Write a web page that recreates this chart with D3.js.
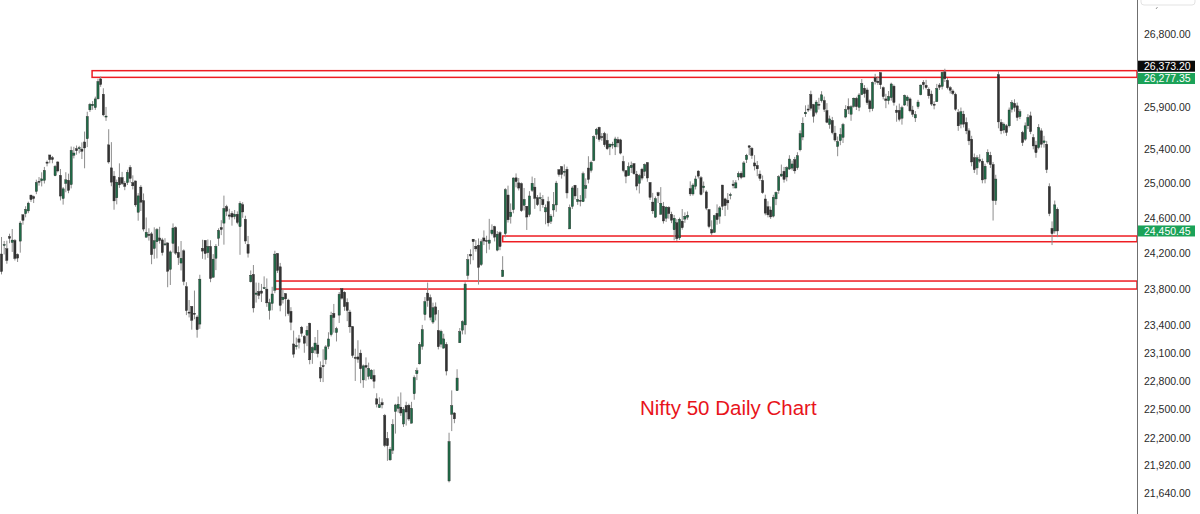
<!DOCTYPE html>
<html><head><meta charset="utf-8">
<script src="https://cdn.jsdelivr.net/npm/d3@7"></script>
<style>html,body{margin:0;padding:0;background:#fff;overflow:hidden}svg{display:block}</style>
</head><body><svg id="c" width="1200" height="514"></svg>
<script>
// Daily candles [open, high, low, close], Aug 2024 -> Mar 2026
const ohlc2024 = [
[24189,24382,23960,23992],[24289,24337,24184,24297],[24248,24340,24079,24117],[24387,24419,24311,24367],[24320,24473,24212,24347],
[24342,24359,24116,24139],[24184,24196,24099,24143],[24335,24563,24204,24541],[24636,24638,24522,24572],[24648,24734,24607,24698],
[24680,24787,24654,24770],[24863,24867,24784,24811],[24845,24858,24771,24823],[24906,25043,24874,25010],[25024,25073,24973,25017],
[25030,25129,24964,25052],[25035,25192,24998,25151],[25249,25268,25199,25236],[25333,25333,25235,25279],[25300,25321,25235,25279],
[25089,25216,25083,25198],[25250,25260,25128,25145],[25093,25168,24801,24852],[24823,24957,24753,24936],[24999,25130,24896,25041],
[25035,25113,24885,24918],[24985,25433,24941,25388],[25330,25430,25292,25356],[25406,25445,25336,25383],[25416,25441,25352,25418],
[25402,25482,25285,25377],[25487,25611,25176,25416],[25525,25849,25426,25791],[25872,25956,25847,25939],[25921,25978,25872,25940],
[25899,26032,25871,26004],[26005,26250,25998,26216],[26248,26277,26151,26179],[26061,26134,25794,25811],[25788,25907,25739,25797],
[25453,25639,25230,25250],[25181,25485,24966,25014],[25084,25143,24694,24796],[24832,25044,24756,25013],[25066,25234,24947,24982],
[25067,25134,24980,24998],[25002,25028,24920,24964],[25008,25159,24980,25128],[25186,25213,25008,25057],[25008,25093,24929,24971],
[25028,25029,24728,24750],[24665,24886,24568,24854],[24956,24979,24679,24781],[24798,24882,24445,24472],[24379,24605,24378,24435],
[24412,24481,24341,24399],[24418,24440,24074,24181],[24251,24492,24135,24339],[24328,24484,24140,24467],[24371,24498,24307,24341],
[24349,24372,24172,24205],[24302,24368,24280,24304],[24315,24316,23817,23995],[24016,24229,23842,24213],[24309,24537,24204,24484],
[24489,24503,24179,24199],[24207,24276,24066,24148],[24087,24336,24004,24141],[24225,24242,23839,23883],[23822,23873,23509,23559],
[23542,23675,23484,23533],[23605,23606,23350,23453],[23530,23780,23464,23518],[23488,23507,23263,23350],[23411,23956,23359,23907],
[24254,24351,24135,24222],[24343,24343,24126,24194],[24204,24354,24145,24275],[24274,24345,23873,23914],[23927,24188,23927,24131],
[24141,24301,24008,24276],[24367,24481,24280,24457],[24489,24574,24403,24467],[24540,24857,24295,24708],[24729,24751,24620,24677],
[24634,24705,24580,24619],[24652,24677,24511,24610],[24615,24691,24584,24641],[24642,24675,24527,24548],[24499,24792,24180,24768],
[24753,24781,24601,24668],[24584,24625,24303,24336],[24298,24394,24149,24198],[23878,24004,23870,23951],[23960,24065,23538,23588],
[23738,23869,23647,23753],[23769,23867,23685,23727],[23775,23854,23654,23750],[23801,23938,23800,23813],[23796,23915,23600,23644],
[23560,23689,23460,23645]
];
const ohlc2025a = [
[23637,23822,23562,23742],[23783,24226,23751,24188],[24196,24196,23976,24004],[24045,24089,23551,23616],[23679,23795,23637,23707],
[23746,23751,23496,23688],[23675,23689,23503,23526],[23551,23596,23344,23431],[23195,23340,23047,23085],[23165,23264,23134,23176],
[23250,23293,23146,23213],[23377,23391,23273,23311],[23277,23292,23100,23203],[23290,23391,23171,23344],[23421,23426,22976,23024],
[23099,23169,22981,23155],[23129,23270,23090,23205],[23183,23347,23050,23092],[22940,23007,22787,22829],[22961,23138,22786,22957],
[23027,23183,22976,23163],[23169,23322,23139,23249],[23296,23546,23277,23508],
[23528,23632,23318,23482],[23319,23381,23222,23361],[23509,23763,23423,23739],[23801,23807,23680,23696],[23761,23773,23556,23603],
[23649,23694,23443,23560],[23543,23568,23316,23381],[23383,23390,23046,23071],[23050,23144,22798,23045],[23055,23235,22992,23031],
[23096,23133,22774,22929],[22809,22974,22725,22959],[22963,23050,22801,22945],[22847,22994,22814,22932],[22821,22924,22812,22913],
[22857,22921,22720,22795],[22609,22668,22518,22553],[22516,22625,22513,22547],[22568,22613,22508,22545],[22433,22450,22105,22124],
[22194,22262,21964,22119],[21974,22105,21965,22083],[22073,22395,22034,22337],[22476,22556,22245,22544],[22508,22633,22464,22552],
[22521,22676,22429,22460],[22345,22522,22314,22497],[22537,22578,22329,22470],[22541,22558,22377,22397],[22353,22577,22353,22508],
[22662,22857,22599,22834],[22875,22940,22807,22907],[22981,23216,22974,23190],[23168,23402,23133,23350],[23515,23708,23451,23658],
[23752,23869,23601,23668],[23701,23736,23452,23486],[23433,23646,23412,23591],[23600,23649,23451,23519],
[23341,23565,23136,23165],[23193,23350,23158,23332],[23150,23306,23145,23250],[23190,23214,22857,22904],[21759,22254,21744,22162],
[22447,22698,22271,22536],[22460,22468,22353,22399],[22695,22923,22695,22829],[23208,23368,23207,23328],[23345,23452,23299,23437],
[23402,23872,23298,23852],[23949,24189,23903,24125],[24185,24242,24073,24167],[24357,24359,24119,24329],[24277,24347,24216,24247],
[24289,24365,23847,24039],[24070,24355,24054,24328],[24371,24457,24290,24336],[24342,24396,24198,24334],
[24311,24589,24238,24347],[24419,24526,24400,24461],[24500,24510,24331,24380],[24233,24449,24220,24414],[24431,24448,24232,24273],
[23935,24164,23935,24008],[24420,24944,24378,24925],[24864,24973,24547,24578],[24614,24767,24535,24666],[24694,25070,24653,25062],
[25064,25116,24953,25020],[25005,25062,24917,24945],[24996,25010,24669,24683],[24745,24946,24685,24813],[24734,24737,24462,24610],
[24639,24909,24614,24853],[24919,25079,24900,25001],[24956,25062,24704,24826],[24832,24864,24737,24752],[24825,24892,24677,24834],
[24812,24863,24717,24751],
[24669,24754,24527,24717],[24786,24845,24502,24543],[24561,24644,24530,24621],[24691,24899,24613,24751],[24749,25029,24671,25003],
[25160,25160,25078,25103],[25196,25199,25055,25104],[25134,25222,25082,25141],[25164,25196,24825,24888],[24474,24754,24474,24718],
[24732,24967,24703,24946],[24977,24982,24813,24853],[24788,24947,24750,24812],[24803,24863,24733,24793],[24787,25137,24783,25112],
[24939,25058,24825,24972],[25179,25318,24999,25045],[25151,25266,25126,25245],[25268,25565,25259,25550],[25576,25655,25523,25637],
[25661,25669,25490,25517]
];
const ohlc2025b = [
[25551,25593,25501,25542],[25588,25608,25429,25454],[25506,25587,25391,25406],[25428,25470,25331,25461],[25450,25489,25407,25461],
[25428,25549,25332,25523],[25515,25548,25424,25476],[25512,25525,25340,25355],[25256,25323,25129,25150],[25149,25151,25001,25082],
[25090,25245,25089,25196],[25182,25255,25121,25212],[25230,25238,25101,25112],[25108,25145,24919,24968],[24999,25111,24882,25091],
[25166,25182,25035,25061],[25139,25233,25085,25220],[25243,25247,25018,25062],[25010,25011,24806,24837],[24782,24889,24646,24681],
[24609,24847,24599,24821],[24890,24902,24771,24855],[24642,24956,24636,24768],
[24734,24784,24535,24565],[24596,24736,24554,24723],[24720,24734,24591,24650],[24641,24671,24540,24574],[24464,24634,24344,24596],
[24544,24586,24337,24363],[24371,24603,24348,24585],[24563,24702,24465,24487],[24586,24664,24543,24619],[24607,24674,24579,24631],
[24938,25023,24852,24877],[24876,25000,24856,24980],[24965,25089,24929,25051],[25143,25154,25055,25084],[25065,25085,24859,24870],
[24949,25021,24892,24968],[24900,24919,24689,24712],[24695,24702,24481,24501],[24467,24572,24404,24427],
[24433,24636,24432,24625],[24653,24756,24522,24580],[24620,24737,24533,24715],[24980,24981,24690,24734],[24819,24832,24621,24741],
[24802,24886,24693,24773],[24864,24891,24814,24868],[24991,25037,24941,24973],[24946,25037,24940,25006],[25074,25139,25036,25114],
[25118,25140,25048,25069],[25074,25261,25070,25239],[25277,25346,25238,25330],[25441,25449,25330,25424],[25411,25428,25287,25327],
[25239,25331,25151,25203],[25209,25262,25084,25170],[25108,25150,25028,25057],[25034,25092,24878,24891],[24818,24868,24630,24655],
[24728,24792,24606,24635],[24691,24731,24588,24611],
[24620,24867,24605,24837],[24819,24904,24747,24894],[24916,25095,24877,25077],[25085,25220,25076,25108],[25141,25192,25008,25046],
[25074,25199,25024,25182],[25167,25330,25157,25285],[25178,25267,25152,25227],[25277,25310,25113,25146],[25182,25365,25159,25324],
[25394,25625,25376,25586],[25546,25781,25508,25710],[25824,25926,25787,25843],[25882,25934,25847,25869],[26057,26104,25863,25891],
[25935,25944,25718,25795],[25843,25991,25817,25966],[25939,26018,25875,25936],[25982,26098,25960,26054],[25984,26033,25846,25878],
[25863,25953,25711,25722],
[25696,25803,25645,25763],[25744,25787,25578,25598],[25593,25679,25491,25510],[25433,25552,25318,25492],[25503,25653,25449,25574],
[25541,25715,25475,25695],[25785,25928,25770,25876],[25911,26011,25821,25879],[25819,25928,25740,25910],[25914,26021,25898,26013],
[26011,26030,25870,25910],[25902,26075,25856,26052],[26058,26246,26050,26192],[26134,26172,26020,26068],[26113,26141,25932,25959],
[25980,25998,25843,25885],[25886,26215,25856,26205],[26262,26310,26180,26216],[26220,26280,26175,26203],
[26326,26326,26125,26176],[26140,26156,25998,26032],[26004,26066,25892,25986],[25983,26100,25938,26034],[26020,26202,25983,26186],
[26159,26178,25923,25961],[25868,25923,25729,25840],[25865,25947,25733,25758],[25771,25922,25694,25898],[25930,26057,25920,26047],
[25983,26048,25915,26027],[26004,26023,25842,25860],[25870,25920,25787,25818],[25775,25857,25726,25815],[25911,25993,25885,25966],
[26055,26180,26048,26172],[26205,26233,26119,26177],[26170,26236,26119,26142],[26121,26144,26008,26042],[26063,26105,25920,25942],
[25940,25976,25878,25938],[25971,26187,25969,26130]
];
const ohlc2026 = [
[26173,26197,26113,26146],[26156,26340,26119,26328],[26334,26373,26210,26250],[26230,26260,26120,26140],[26140,26160,26070,26110],
[26100,26120,26050,26070],[26060,26080,25860,25880],[25840,25880,25620,25680],[25700,25900,25650,25850],[25820,25860,25660,25700],
[25720,25780,25580,25620],[25620,25650,25450,25500],[25520,25560,25200,25250],[25300,25350,25120,25160],[25180,25330,25100,25300],
[25280,25340,25240,25260],[25260,25290,25000,25040],[25050,25230,25000,25200],[25250,25400,25230,25360],[25330,25370,25180,25220],
[25220,25250,24570,24800],[24800,25100,24750,25050],[26300,26341,25650,25727],[25720,25760,25580,25620],[25630,25720,25590,25700],
[25680,25700,25560,25600],[25680,25900,25660,25870],[25880,25990,25840,25960],[25950,26000,25850,25900],[25920,25960,25740,25780],
[25790,25880,25760,25850],[25600,25620,25440,25480],[25520,25720,25500,25680],[25680,25820,25640,25780],[25800,25850,25580,25610],
[25540,25580,25400,25440],[25450,25500,25300,25360],[25420,25700,25400,25660],[25620,25650,25420,25460],[25480,25560,25420,25500],
[25460,25500,25120,25160],[24960,25000,24620,24650],[24480,24560,24290,24420],[24450,24800,24420,24750],[24700,24720,24380,24450.45]
];

// Axis ticks (log price scale)
const tickValues = [26800,25900,25400,25000,24600,24200,23800,23400,23100,22800,22500,22200,21920,21640];
// Support/resistance zones: [low, high, first candle index]
const zoneLows   = [26267, 24328, 23797];
const zoneHighs  = [26349, 24393, 23886];
const zoneStarts = [33.8, 187, 102];
// Price tags on the axis
const tagValues = [26373.20, 26277.35, 24450.45];
const tagKinds  = ["high", "last", "last"];
const titleText = "Nifty 50 Daily Chart";

const candles = [].concat(ohlc2024, ohlc2025a, ohlc2025b, ohlc2026)
  .map((d, i) => ({i, o: d[0], h: d[1], l: d[2], c: d[3]}));

const svg = d3.select("#c");
const W = 1200, H = 514, axisX = 1137;

const y = d3.scaleLog().domain([21640, 26800]).range([492.7, 34.3]);
const x = d3.scaleLinear().domain([0, candles.length - 1]).range([1.5, 1057.4]);

svg.append("rect").attr("width", W).attr("height", H).attr("fill", "#fff");

// zones
const zg = svg.append("g");
zoneLows.forEach((lo, k) => {
  const x0 = x(zoneStarts[k]);
  zg.append("rect")
    .attr("x", x0).attr("y", y(zoneHighs[k]))
    .attr("width", axisX - x0).attr("height", y(lo) - y(zoneHighs[k]))
    .attr("fill", "none").attr("stroke", "#ee1d23").attr("stroke-width", 1.5);
});

// candles
const cg = svg.append("g");
cg.selectAll("line.w").data(candles).join("line")
  .attr("class", "w")
  .attr("x1", d => x(d.i)).attr("x2", d => x(d.i))
  .attr("y1", d => y(d.h)).attr("y2", d => y(d.l))
  .attr("stroke", "#8d8d8d").attr("stroke-width", 1);
cg.selectAll("rect.b").data(candles).join("rect")
  .attr("class", "b")
  .attr("x", d => x(d.i) - 1.1)
  .attr("width", 2.2)
  .attr("y", d => y(Math.max(d.o, d.c)))
  .attr("height", d => Math.max(1, y(Math.min(d.o, d.c)) - y(Math.max(d.o, d.c))))
  .attr("fill", d => d.c >= d.o ? "#1f6b47" : "#333")
  .attr("stroke", "#2a2a2a").attr("stroke-width", 0.4);

// right axis
const ag = svg.append("g").attr("transform", `translate(${axisX},0)`)
  .call(d3.axisRight(y).tickValues(tickValues).tickFormat(d3.format(",.2f")).tickSize(0).tickPadding(7));
ag.select(".domain").remove();
ag.selectAll("text").attr("font-family", "'Liberation Sans', Arial, sans-serif")
  .attr("font-size", 10.5).attr("fill", "#2a2a2a");
svg.append("line").attr("x1", axisX + 0.5).attr("x2", axisX + 0.5).attr("y1", 0).attr("y2", H)
  .attr("stroke", "#6f6f6f").attr("stroke-width", 1);

// top small button
svg.append("rect").attr("x", 1141).attr("y", -6).attr("width", 54).attr("height", 11).attr("rx", 3)
  .attr("fill", "#fff").attr("stroke", "#e3e3e3");
svg.append("line").attr("x1", 1156).attr("y1", 9).attr("x2", 1157.5).attr("y2", 7)
  .attr("stroke", "#999").attr("stroke-width", 1);

// price tags (the two top tags are nudged apart so their texts do not collide)
const tagShift = [-2.5, 2, 0];
const tg = svg.append("g");
tagValues.forEach((v, k) => {
  const cy = y(v) + tagShift[k];
  tg.append("rect").attr("x", axisX + 1).attr("y", cy - 5.5).attr("width", 57).attr("height", 11)
    .attr("fill", tagKinds[k] === "high" ? "#0b0b0b" : "#1ba258");
  tg.append("text").attr("x", axisX + 7).attr("y", cy).attr("dy", "0.35em")
    .attr("font-family", "'Liberation Sans', Arial, sans-serif").attr("font-size", 10.5)
    .attr("fill", "#fff").text(d3.format(",.2f")(v));
});

// title
svg.append("text").attr("x", 640).attr("y", 415)
  .attr("font-family", "'Liberation Sans', Arial, sans-serif").attr("font-size", 20.5)
  .attr("fill", "#e8141b").text(titleText);
</script></body></html>
